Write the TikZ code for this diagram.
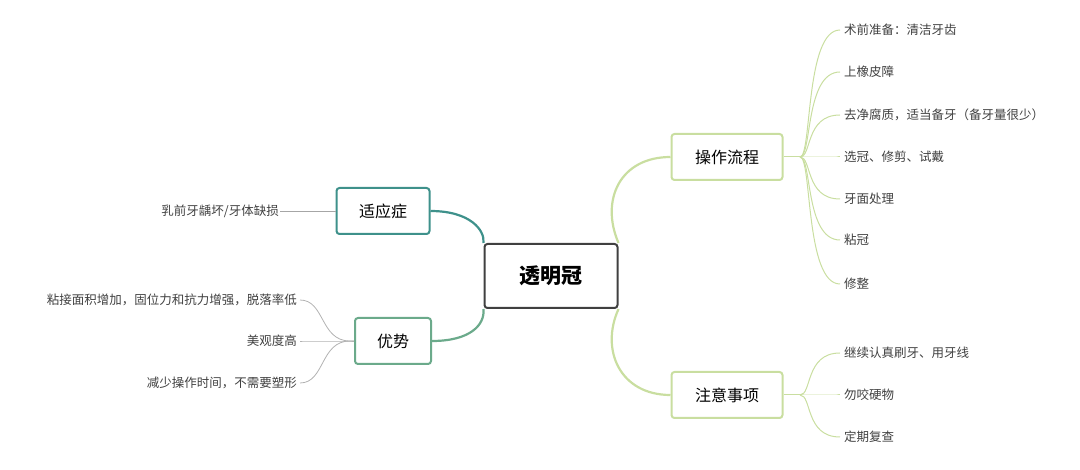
\documentclass[tikz,border=0pt]{standalone}
\usepackage{fontspec}
\setmainfont{Noto Sans CJK SC}
\begin{document}
\begin{tikzpicture}[x=1pt,y=-1pt,
  box/.style={draw,rounded corners=3pt,line width=2pt,fill=white,inner sep=0pt,minimum height=46pt},
  leaf/.style={font=\fontsize{12.5}{14}\selectfont,text=black!75,inner sep=1pt},
  cn/.style={line width=2.2pt}]
\useasboundingbox (0,0) rectangle (1080,470);
\definecolor{teal1}{HTML}{3E918B}
\definecolor{grn1}{HTML}{6BAA8B}
\definecolor{lg}{HTML}{C9DEA0}
\node[box,draw=black!75,minimum width=133pt,minimum height=64pt,font=\fontsize{21}{24}\selectfont\bfseries] (c) at (551,276) {透明冠};
\node[box,draw=teal1,minimum width=93pt,font=\fontsize{16}{18}\selectfont] (a) at (383,211) {适应症};
\node[box,draw=grn1,minimum width=76pt,font=\fontsize{16}{18}\selectfont] (b) at (393,341) {优势};
\node[box,draw=lg,minimum width=111pt,font=\fontsize{16}{18}\selectfont] (p) at (727,157) {操作流程};
\node[box,draw=lg,minimum width=111pt,font=\fontsize{16}{18}\selectfont] (n) at (727,395) {注意事项};
\draw[cn,teal1] (a.east) .. controls (470,211) and (485,230) .. (c.north west);
\draw[cn,grn1] (b.east) .. controls (470,341) and (485,325) .. (c.south west);
\draw[cn,lg] (c.north east) .. controls (600,200) and (620,157) .. (p.west);
\draw[cn,lg] (c.south east) .. controls (600,350) and (620,395) .. (n.west);
% left leaves
\node[leaf,anchor=east] (a1) at (280,211) {乳前牙龋坏/牙体缺损};
\draw[black!35,line width=0.8pt] (a1.east) -- (a.west);
\coordinate (bj) at (350,341);
\foreach \t/\y/\nm in {粘接面积增加，固位力和抗力增强，脱落率低/300/b1,美观度高/341/b2,减少操作时间，不需要塑形/383/b3}{
  \node[leaf,anchor=east] (\nm) at (298,\y) {\t};
  \draw[black!30,line width=0.8pt] (b.west) -- (bj) .. controls (320,341) and (325,\y) .. (300,\y);
}
% right leaves
\coordinate (pj) at (800,157);
\draw[lg,line width=1pt] (p.east) -- (pj);
\foreach \t/\y/\nm in {术前准备：清洁牙齿/30/p1,上橡皮障/72/p2,去净腐质，适当备牙（备牙量很少）/115/p3,选冠、修剪、试戴/157/p4,牙面处理/199/p5,粘冠/240/p6,修整/284/p7}{
  \node[leaf,anchor=west] (\nm) at (843,\y) {\t};
  \draw[lg,line width=1pt] (pj) .. controls (812,157) and (805,\y) .. (840,\y);
}
\coordinate (nj) at (800,395);
\draw[lg,line width=1pt] (n.east) -- (nj);
\foreach \t/\y/\nm in {继续认真刷牙、用牙线/353/n1,勿咬硬物/395/n2,定期复查/437/n3}{
  \node[leaf,anchor=west] (\nm) at (843,\y) {\t};
  \draw[lg,line width=1pt] (nj) .. controls (812,395) and (805,\y) .. (840,\y);
}
\end{tikzpicture}
\end{document}
